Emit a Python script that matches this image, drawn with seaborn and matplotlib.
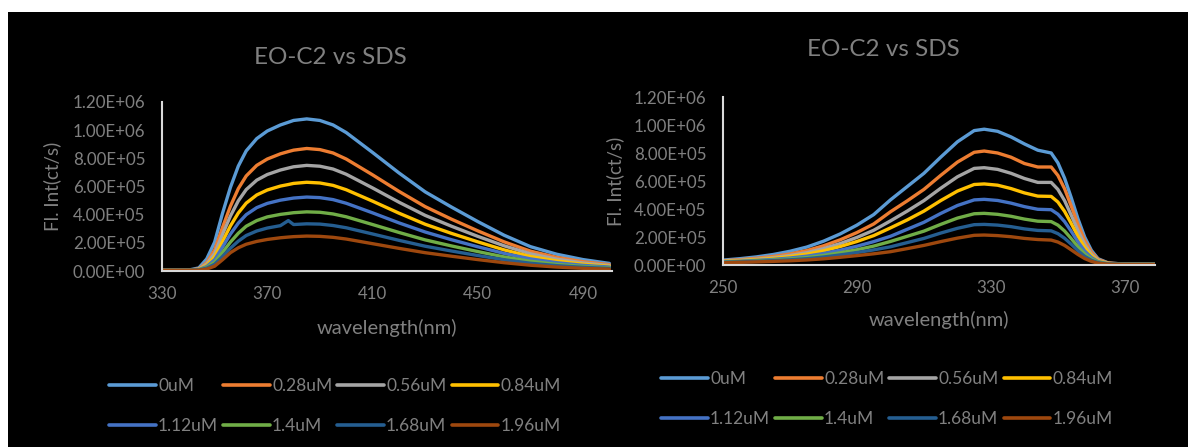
import matplotlib
matplotlib.use("Agg")
import pandas as pd
import matplotlib.pyplot as plt
import seaborn as sns
from matplotlib.patches import Rectangle
from matplotlib.lines import Line2D
from matplotlib.ticker import FuncFormatter

# concentrations and Excel-like colours
labels = ["0uM", "0.28uM", "0.56uM", "0.84uM", "1.12uM", "1.4uM", "1.68uM", "1.96uM"]
colors = ["#5B9BD5", "#ED7D31", "#A5A5A5", "#FFC000", "#4472C4", "#70AD47", "#255E91", "#9E480E"]

# left panel (emission), intensities in thousands of ct/s
wl_left = [330, 340, 344, 347, 350, 353, 356, 359, 362, 366, 370, 375, 378, 380,
           385, 390, 395, 400, 410, 420, 430, 440, 450, 460, 470, 480, 490, 500]
left_0uM = [5, 6, 22, 86, 205, 410, 594, 745, 853, 940, 994, 1037, 1056, 1069,
            1080, 1069, 1037, 983, 842, 697, 562, 454, 351, 254, 173, 119, 81, 54]
left_028uM = [5, 5, 15, 60, 150, 310, 460, 585, 675, 750, 795, 832, 848, 858,
              870, 862, 838, 795, 683, 566, 457, 368, 285, 207, 141, 97, 66, 45]
left_056uM = [5, 5, 13, 50, 125, 260, 390, 498, 578, 645, 685, 717, 731, 740,
              750, 744, 724, 687, 590, 489, 395, 318, 246, 179, 122, 84, 57, 39]
left_084uM = [5, 5, 11, 40, 100, 210, 320, 412, 482, 540, 575, 603, 614, 622,
              630, 625, 608, 577, 496, 411, 332, 267, 207, 150, 103, 71, 48, 33]
left_112uM = [5, 5, 9, 32, 80, 170, 262, 340, 400, 450, 480, 503, 512, 518,
              525, 521, 507, 481, 413, 342, 277, 222, 172, 125, 86, 59, 40, 28]
left_14uM = [5, 5, 8, 25, 62, 132, 205, 268, 318, 358, 384, 402, 409, 414,
             420, 417, 405, 385, 330, 274, 221, 178, 138, 100, 69, 47, 32, 22]
left_168uM = [5, 5, 7, 20, 48, 103, 162, 212, 252, 284, 305, 322, 358, 330,
              335, 333, 323, 307, 263, 218, 176, 142, 110, 80, 55, 38, 26, 18]
left_196uM = [5, 5, 6, 14, 34, 80, 130, 165, 190, 210, 224, 236, 241, 244,
              248, 246, 239, 227, 194, 161, 130, 105, 81, 59, 41, 28, 19, 13]

# right panel (excitation)
wl_right = [250, 255, 260, 265, 270, 275, 280, 285, 290, 295, 300, 305, 310, 315, 320, 325,
            328, 332, 336, 340, 344, 348, 350, 352, 354, 356, 358, 360, 362, 365, 370, 380]
right_0uM = [35, 45, 58, 75, 98, 128, 170, 222, 285, 360, 465, 560, 655, 770, 880, 960,
             970, 955, 915, 865, 820, 800, 730, 620, 480, 330, 200, 105, 45, 15, 6, 4]
right_028uM = [30, 38, 48, 61, 79, 103, 137, 180, 232, 293, 380, 458, 540, 640, 735, 805,
               814, 800, 770, 725, 700, 700, 640, 545, 420, 290, 175, 92, 40, 14, 6, 4]
right_056uM = [27, 34, 42, 53, 68, 88, 117, 153, 197, 248, 315, 385, 460, 548, 630, 690,
               695, 683, 655, 618, 590, 590, 540, 460, 355, 245, 148, 78, 34, 12, 5, 4]
right_084uM = [25, 31, 38, 47, 60, 77, 101, 132, 168, 210, 265, 322, 385, 460, 528, 575,
               579, 570, 546, 515, 492, 490, 450, 383, 296, 204, 124, 66, 29, 11, 5, 4]
right_112uM = [22, 27, 33, 40, 50, 63, 82, 106, 134, 167, 205, 255, 305, 368, 425, 465,
               469, 461, 442, 417, 398, 395, 363, 310, 240, 165, 100, 54, 24, 9, 5, 4]
right_14uM = [20, 24, 29, 35, 43, 53, 68, 87, 109, 135, 168, 205, 242, 290, 335, 366,
              369, 362, 348, 328, 313, 310, 285, 243, 188, 130, 79, 43, 20, 8, 5, 4]
right_168uM = [18, 22, 26, 31, 37, 45, 57, 72, 89, 108, 130, 160, 190, 228, 262, 288,
               290, 285, 274, 258, 247, 244, 224, 191, 148, 102, 62, 34, 16, 7, 5, 4]
right_196uM = [16, 19, 22, 26, 30, 36, 44, 55, 67, 80, 95, 117, 140, 167, 192, 212,
               214, 210, 202, 190, 182, 178, 164, 140, 108, 75, 46, 26, 13, 6, 4, 3]

left_series = [left_0uM, left_028uM, left_056uM, left_084uM,
               left_112uM, left_14uM, left_168uM, left_196uM]
right_series = [right_0uM, right_028uM, right_056uM, right_084uM,
                right_112uM, right_14uM, right_168uM, right_196uM]


def long_form(wl, series):
    rows = []
    for lab, vals in zip(labels, series):
        for w, v in zip(wl, vals):
            rows.append({"wl": w, "val": v * 1000, "conc": lab})
    return pd.DataFrame(rows)


df_left = long_form(wl_left, left_series)
df_right = long_form(wl_right, right_series)

sns.set_style("ticks")
plt.rcParams["font.family"] = ["Lato", "DejaVu Sans"]

W, H = 1188, 447
grey = "#808080"

fig = plt.figure(figsize=(W / 100, H / 100), dpi=100)
fig.patch.set_facecolor("white")
fig.add_artist(Rectangle((8 / W, 0), 1 - 8 / W, (H - 12) / H, transform=fig.transFigure,
                         facecolor="black", edgecolor="none", zorder=-10))

ax1 = fig.add_axes([162 / W, (H - 271) / H, 450 / W, 169 / H])
ax2 = fig.add_axes([723 / W, (H - 265) / H, 432 / W, 168 / H])

panels = [
    (ax1, df_left, (330, 501), [330, 370, 410, 450, 490], (330, 57), (-0.337, -0.244)),
    (ax2, df_right, (250, 379), [250, 290, 330, 370], (883, 50), (-0.327, -0.25)),
]

for ax, df, xlim, xticks, title_pos, (xl_y, yl_x) in panels:
    ax.set_facecolor("black")
    sns.lineplot(data=df, x="wl", y="val", hue="conc", hue_order=labels, palette=colors,
                 estimator=None, sort=False, legend=False, lw=2.4, ax=ax)
    ax.set_xlim(*xlim)
    ax.set_ylim(0, 1.2e6)
    ax.set_xticks(xticks)
    ax.set_yticks([0, 2e5, 4e5, 6e5, 8e5, 1e6, 1.2e6])
    ax.yaxis.set_major_formatter(FuncFormatter(lambda v, p: f"{v:.2E}"))
    for s in ["top", "right"]:
        ax.spines[s].set_visible(False)
    for s in ["left", "bottom"]:
        ax.spines[s].set_color("#d9d9d9")
        ax.spines[s].set_linewidth(1.5)
    ax.tick_params(axis="both", length=0, colors=grey, labelsize=12.2)
    ax.tick_params(axis="y", pad=12)
    ax.tick_params(axis="x", pad=11)
    ax.set_xlabel("wavelength(nm)", color=grey, fontsize=14.5, va="center")
    ax.set_ylabel("Fl. Int(ct/s)", color=grey, fontsize=13.5, va="center")
    ax.xaxis.set_label_coords(0.5, xl_y)
    ax.yaxis.set_label_coords(yl_x, 0.5)
    fig.text(title_pos[0] / W, (H - title_pos[1]) / H, "EO-C2 vs SDS", color=grey,
             fontsize=17.5, ha="center", va="center")

# legends, filled row by row like the original
handles = [Line2D([], [], color=c, lw=2.6) for c in colors]
order = [0, 4, 1, 5, 2, 6, 3, 7]
for cx, cy in [(335, 406), (887, 399)]:
    fig.legend([handles[i] for i in order], [labels[i] for i in order], ncol=4,
               loc="center", bbox_to_anchor=(cx / W, (H - cy) / H), frameon=False,
               handlelength=2.7, handletextpad=0.1, columnspacing=0.3,
               labelspacing=1.35, fontsize=12.5, labelcolor=grey)

fig.savefig("out.png", dpi=100, facecolor=fig.get_facecolor())
